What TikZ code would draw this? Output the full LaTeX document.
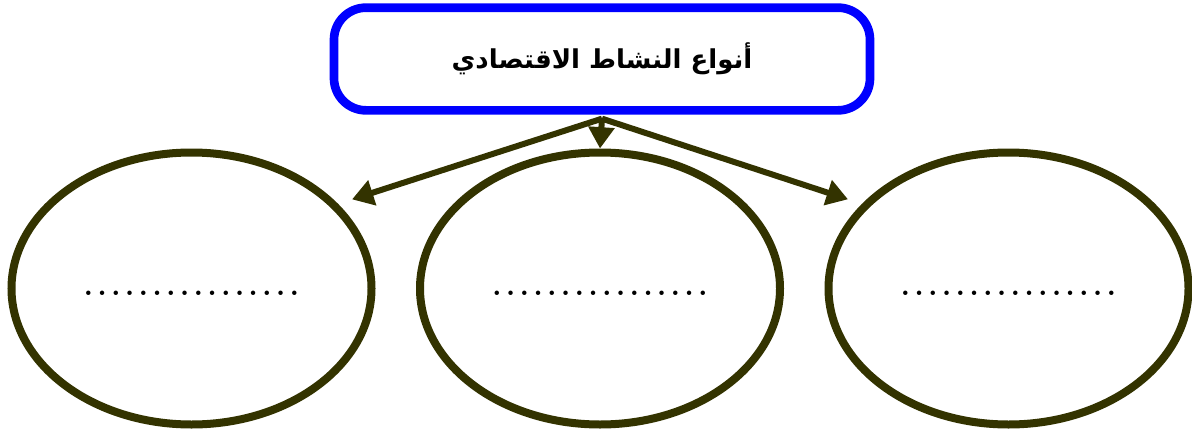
\documentclass[tikz,border=0pt]{standalone}
\usepackage{fontspec}
\usetikzlibrary{arrows.meta,shapes.geometric}
\TeXXeTstate=1
\newfontfamily\arabicfont[Script=Arabic]{DejaVu Sans}
\definecolor{oliveink}{HTML}{333300}
\definecolor{titleblue}{HTML}{0000FF}
\newcommand{\dotrow}{\strut\foreach\k in {1,...,16}{\hbox to 10.3pt{\hss.\hss}}}

\begin{document}
\begin{tikzpicture}[x=0.75pt, y=-0.75pt, >={Triangle[length=16pt,width=19pt]},
  title/.style={draw=titleblue, line width=6.5pt, rounded corners=24pt, minimum width=402pt, minimum height=77pt, inner sep=0pt, font=\arabicfont\bfseries\fontsize{19.5}{23}\selectfont},
  slot/.style={ellipse, draw=oliveink, line width=6pt, minimum width=270pt, minimum height=204pt, inner sep=0pt, font=\bfseries\fontsize{23}{27.6}\selectfont},
  link/.style={->, draw=oliveink, fill=oliveink, line width=4.5pt}]
\useasboundingbox (0,0) rectangle (1192,432);
\node[title] (t) at (602,59) {\beginR أنواع النشاط الاقتصادي\endR};
\node[slot] (e1) at (191.5,288.5) {\dotrow};
\node[slot] (e2) at (600,288.5) {\dotrow};
\node[slot] (e3) at (1008.5,288.5) {\dotrow};
\coordinate (hub) at ([yshift=-3pt]t.south);
\draw[link] (hub) -- (e2.north);
\draw[link, shorten >=11pt] (hub) -- (e1.30);
\draw[link, shorten >=11pt] (hub) -- (e3.150);
\end{tikzpicture}
\end{document}
